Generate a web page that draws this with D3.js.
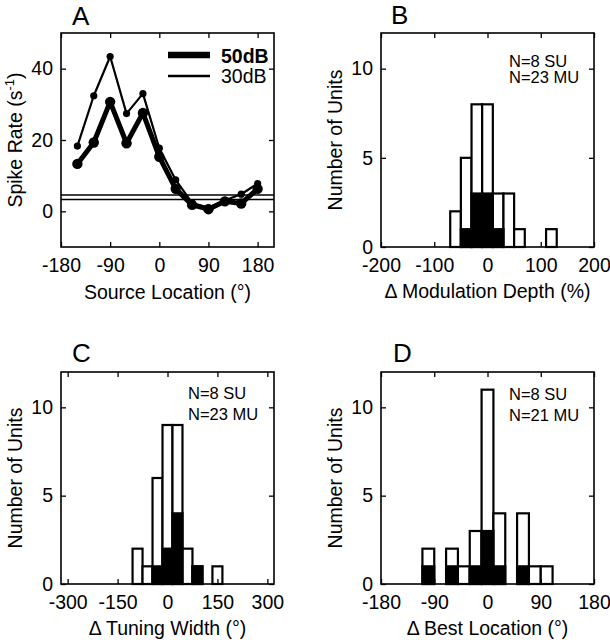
<!DOCTYPE html>
<html><head><meta charset="utf-8">
<script src="https://cdn.jsdelivr.net/npm/d3@7"></script>
<style>body{margin:0;background:#fff} text{font-family:"Liberation Sans",Arial,Helvetica,sans-serif;fill:#000}</style>
</head><body><svg id="c" width="610" height="640"></svg>
<script>
// ---- Panel A data ----
const locations = [-150,-120,-90,-60,-30,0,30,60,90,120,150,180];
const rate50 = [13.3,19.3,30.7,19.1,27.6,15.3,6.3,1.8,0.6,2.8,2.2,6.3];
const rate30 = [18.3,32.4,43.4,27.4,33.0,17.7,8.8,2.4,1.0,3.1,4.8,7.8];
const spontaneous = [3.3,4.6];
const levels = ["50dB","30dB"];
const ticksAX = [-180,-90,0,90,180];
const ticksAY = [0,20,40];
// ---- Panel B data ----
const binsB = [-60,-40,-20,0,20,40,60,120];
const totalB = [2,5,8,8,3,3,1,1];
const suB = [0,1,3,3,1,0,0,0];
const ticksBX = [-200,-100,0,100,200];
// ---- Panel C data ----
const binsC = [-90,-60,-30,0,30,60,90,150];
const totalC = [2,1,6,9,9,2,1,1];
const suC = [0,0,1,2,4,0,1,0];
const ticksCX = [-300,-150,0,150,300];
// ---- Panel D data ----
const binsD = [-100,-60,-40,-20,0,20,60,80,100];
const totalD = [2,2,1,3,11,4,4,1,1];
const suD = [1,1,0,1,3,1,1,0,0];
const ticksDX = [-180,-90,0,90,180];
const ticksHistY = [0,5,10];

const svg = d3.select('#c');
const FS = 19.5;
const fmt = d => String(d);

function panel(o){
  const g = svg.append('g').attr('transform',`translate(${o.left},${o.top})`);
  const x = d3.scaleLinear().domain(o.xd).range([0,o.w]);
  const y = d3.scaleLinear().domain(o.yd).range([o.h,0]);
  return {g,x,y};
}
function axes(p,o){
  const {g,x,y} = p;
  const style = s => {s.select('.domain').remove(); s.selectAll('line').attr('stroke','#000').attr('stroke-width',1.3);
    s.selectAll('text').attr('font-size',FS).attr('fill','#000').attr('font-family','"Liberation Sans",Arial,sans-serif');};
  g.append('g').attr('transform',`translate(0,${o.h})`).call(d3.axisBottom(x).tickValues(o.xt).tickFormat(fmt).tickSize(-5).tickPadding(11)).call(style);
  g.append('g').call(d3.axisTop(x).tickValues(o.xt).tickSize(-5).tickFormat('')).call(style);
  g.append('g').call(d3.axisLeft(y).tickValues(o.yt).tickFormat(fmt).tickSize(-5).tickPadding(8)).call(style);
  g.append('g').attr('transform',`translate(${o.w},0)`).call(d3.axisRight(y).tickValues(o.yt).tickSize(-5).tickFormat('')).call(style);
  g.append('rect').attr('x',0).attr('y',0).attr('width',o.w).attr('height',o.h).attr('fill','none').attr('stroke','#000').attr('stroke-width',1.6);
  g.append('text').attr('x',o.w/2).attr('y',o.h+o.xtY).attr('text-anchor','middle').attr('font-size',FS).text(o.xtitle);
  const yt = g.append('text').attr('transform',`translate(${o.ytX},${o.h/2}) rotate(-90)`).attr('text-anchor','middle').attr('font-size',FS);
  if(o.ytitleSup){
    yt.append('tspan').text(o.ytitle);
    yt.append('tspan').attr('dy',-8).attr('font-size',13).text(o.ytitleSup);
    yt.append('tspan').attr('dy',8).text(')');
  } else yt.text(o.ytitle);
  svg.append('text').attr('x',o.left+o.letX).attr('y',o.top+o.letY).attr('font-size',26).text(o.letter);
}
function hist(p,o,bins,total,su,bw){
  const {g,x,y} = p;
  const data = bins.map((c,i)=>({c,t:total[i],s:su[i]}));
  g.selectAll('rect.tot').data(data.filter(d=>d.t>0)).join('rect').attr('class','tot')
    .attr('x',d=>x(d.c-bw/2)).attr('width',d=>x(d.c+bw/2)-x(d.c-bw/2))
    .attr('y',d=>y(d.t)).attr('height',d=>y(0)-y(d.t))
    .attr('fill','#fff').attr('stroke','#000').attr('stroke-width',2.2);
  g.selectAll('rect.su').data(data.filter(d=>d.s>0)).join('rect').attr('class','su')
    .attr('x',d=>x(d.c-bw/2)).attr('width',d=>x(d.c+bw/2)-x(d.c-bw/2))
    .attr('y',d=>y(d.s)).attr('height',d=>y(0)-y(d.s))
    .attr('fill','#000').attr('stroke','#000').attr('stroke-width',2.2);
  g.append('text').attr('x',o.nX).attr('y',o.nY1).attr('font-size',16.5).text(o.n1);
  g.append('text').attr('x',o.nX).attr('y',o.nY2).attr('font-size',16.5).text(o.n2);
}

// ---- Panel A ----
const oA = {left:61,top:33,w:213,h:214,xd:[-180,210],yd:[-10,50],xt:ticksAX,yt:ticksAY,
  xtitle:'Source Location (°)',xtY:52,ytitle:'Spike Rate (s',ytitleSup:'-1',ytX:-39,letter:'A',letX:11,letY:-8};
const pA = panel(oA);
spontaneous.forEach(v=>{
  pA.g.append('line').attr('x1',0).attr('x2',oA.w).attr('y1',pA.y(v)).attr('y2',pA.y(v)).attr('stroke','#000').attr('stroke-width',1.6);
});
const line = d3.line().x((d,i)=>pA.x(locations[i])).y(d=>pA.y(d));
pA.g.append('path').attr('d',line(rate30)).attr('fill','none').attr('stroke','#000').attr('stroke-width',2.2).attr('stroke-linejoin','round');
pA.g.selectAll('circle.r30').data(rate30).join('circle').attr('class','r30').attr('cx',(d,i)=>pA.x(locations[i])).attr('cy',d=>pA.y(d)).attr('r',3.6).attr('fill','#000');
pA.g.append('path').attr('d',line(rate50)).attr('fill','none').attr('stroke','#000').attr('stroke-width',5).attr('stroke-linejoin','round');
pA.g.selectAll('circle.r50').data(rate50).join('circle').attr('class','r50').attr('cx',(d,i)=>pA.x(locations[i])).attr('cy',d=>pA.y(d)).attr('r',5.2).attr('fill','#000');
// legend
const lg = pA.g.append('g');
lg.append('line').attr('x1',107).attr('x2',149).attr('y1',22).attr('y2',22).attr('stroke','#000').attr('stroke-width',6.5);
lg.append('line').attr('x1',107).attr('x2',149).attr('y1',43).attr('y2',43).attr('stroke','#000').attr('stroke-width',2.5);
lg.append('text').attr('x',160).attr('y',29.5).attr('font-size',FS).attr('font-weight','bold').text(levels[0]);
lg.append('text').attr('x',160).attr('y',50).attr('font-size',FS).text(levels[1]);
axes(pA,oA);

// ---- Panel B ----
const oB = {left:381,top:33,w:213,h:214,xd:[-200,200],yd:[0,12],xt:ticksBX,yt:ticksHistY,
  xtitle:'Δ Modulation Depth (%)',xtY:51,ytitle:'Number of Units',ytX:-39,letter:'B',letX:10,letY:-9,
  nX:128,nY1:33.5,nY2:50,n1:'N=8 SU',n2:'N=23 MU'};
const pB = panel(oB); hist(pB,oB,binsB,totalB,suB,20); axes(pB,oB);

// ---- Panel C ----
const oC = {left:61,top:372,w:213,h:212,xd:[-320,320],yd:[0,12],xt:ticksCX,yt:ticksHistY,
  xtitle:'Δ Tuning Width (°)',xtY:51,ytitle:'Number of Units',ytX:-39,letter:'C',letX:11,letY:-10,
  nX:127,nY1:26.5,nY2:48,n1:'N=8 SU',n2:'N=23 MU'};
const pC = panel(oC); hist(pC,oC,binsC,totalC,suC,30); axes(pC,oC);

// ---- Panel D ----
const oD = {left:381,top:372,w:213,h:212,xd:[-180,180],yd:[0,12],xt:ticksDX,yt:ticksHistY,
  xtitle:'Δ Best Location (°)',xtY:51,ytitle:'Number of Units',ytX:-39,letter:'D',letX:12,letY:-10,
  nX:128,nY1:28,nY2:49,n1:'N=8 SU',n2:'N=21 MU'};
const pD = panel(oD); hist(pD,oD,binsD,totalD,suD,20); axes(pD,oD);
</script></body></html>
